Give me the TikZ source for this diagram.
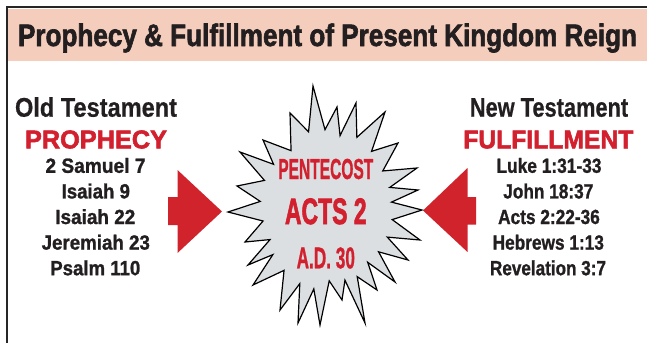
\documentclass[tikz,border=0pt]{standalone}
\usepackage{fontspec}
\usepackage{graphicx}
\setmainfont{Liberation Sans}
\newfontfamily\heavy[FakeBold=1.2]{Liberation Sans Bold}
\newfontfamily\medium[FakeBold=0.6]{Liberation Sans Bold}
\newfontfamily\heavier[FakeBold=2.2]{Liberation Sans Bold}
\usetikzlibrary{calc}
\definecolor{bandpink}{HTML}{F5CDBC}
\definecolor{txtblack}{HTML}{231F20}
\definecolor{txtred}{HTML}{D2202E}
\definecolor{arrowred}{HTML}{D1232C}
\definecolor{stargray}{HTML}{DCDFE2}
\newcommand{\fw}[3]{\resizebox{#2pt}{\height}{\fontsize{#1}{#1}\selectfont\heavy #3}}
\newcommand{\fb}[3]{\resizebox{#2pt}{\height}{\fontsize{#1}{#1}\selectfont\medium #3}}
\newcommand{\fh}[3]{\resizebox{#2pt}{\height}{\fontsize{#1}{#1}\selectfont\heavier #3}}
\begin{document}
\begin{tikzpicture}[x=1pt,y=-1pt,
  lbl/.style={inner sep=0pt,outer sep=0pt,anchor=base,text=txtblack},
  redlbl/.style={lbl,text=txtred},
  blockarrow/.style={fill=arrowred,draw=none}]
\useasboundingbox (0,0) rectangle (647,343);
% header band and frame
\fill[bandpink] (6,8.5) rectangle (647,61);
\draw[line width=1.8pt,color=black!85] (647,7.3) -- (6.7,7.3) -- (6.7,343);
\node[lbl] (title) at (327.5,46) {\fh{31}{619}{Prophecy \& Fulfillment of Present Kingdom Reign}};
% left column
\node[lbl] (ot) at (96,116.7) {\fb{27}{162}{Old Testament}};
\node[redlbl] (proph) at (96,148.3) {\fh{25.6}{142}{PROPHECY}};
\node[lbl] (l1) at (95.5,172.8) {\fw{20.5}{100}{2 Samuel 7}};
\node[lbl] (l2) at (95.8,198.4) {\fw{20.5}{68.3}{Isaiah 9}};
\node[lbl] (l3) at (95.3,224) {\fw{20.5}{80}{Isaiah 22}};
\node[lbl] (l4) at (95.8,249.6) {\fw{20.5}{108.3}{Jeremiah 23}};
\node[lbl] (l5) at (95.3,275.2) {\fw{20.5}{90}{Psalm 110}};
% right column
\node[lbl] (nt) at (549,116.7) {\fb{27}{158.3}{New Testament}};
\node[redlbl] (fulf) at (548.3,148.3) {\fh{25.6}{170}{FULFILLMENT}};
\node[lbl] (r1) at (549,172.8) {\fw{20.5}{105}{Luke 1:31-33}};
\node[lbl] (r2) at (548.3,198.4) {\fw{20.5}{90}{John 18:37}};
\node[lbl] (r3) at (549,224) {\fw{20.5}{101.7}{Acts 2:22-36}};
\node[lbl] (r4) at (548.3,249.6) {\fw{20.5}{111.3}{Hebrews 1:13}};
\node[lbl] (r5) at (548,275.2) {\fw{20.5}{116}{Revelation 3:7}};
% block arrows
\fill[blockarrow] (168,197) -- (177.5,197) -- (177.5,170) -- (222,211.5) -- (177.5,253) -- (177.5,225) -- (168,225) -- cycle;
\fill[blockarrow] (476,197) -- (467.5,197) -- (467.5,168) -- (423,210.5) -- (467.5,252) -- (467.5,224.5) -- (476,224.5) -- cycle;
% starburst
\coordinate (sc) at (325,207);
\foreach \px/\py [count=\i] in {228/212,237/186,240/152,263/140,290/113,313/86,337/107,356/103,385/112,398/143,417/168,418/190,422/210,420/240,408/260,395/282,377/290,365/323,342/300,320/325,298/323,280/310,253/285,248/265,245/242}
  \coordinate (t\i) at (\px,\py);
\filldraw[fill=stargray,draw=black,line width=1.2pt,line join=miter]
  (t1) \foreach \i [evaluate=\i as \j using {int(mod(\i,25)+1)}] in {1,...,25} {
     -- ($.30*(sc)+.35*(t\i)+.35*(t\j)$) -- (t\j) } -- cycle;
\node[redlbl] (pent) at (325.8,179) {\fw{29}{95}{PENTECOST}};
\node[redlbl] (acts) at (325.8,224) {\fh{36.7}{81.7}{ACTS 2}};
\node[redlbl] (ad) at (325.8,268.3) {\fw{30}{58.3}{A.D. 30}};
\end{tikzpicture}
\end{document}
